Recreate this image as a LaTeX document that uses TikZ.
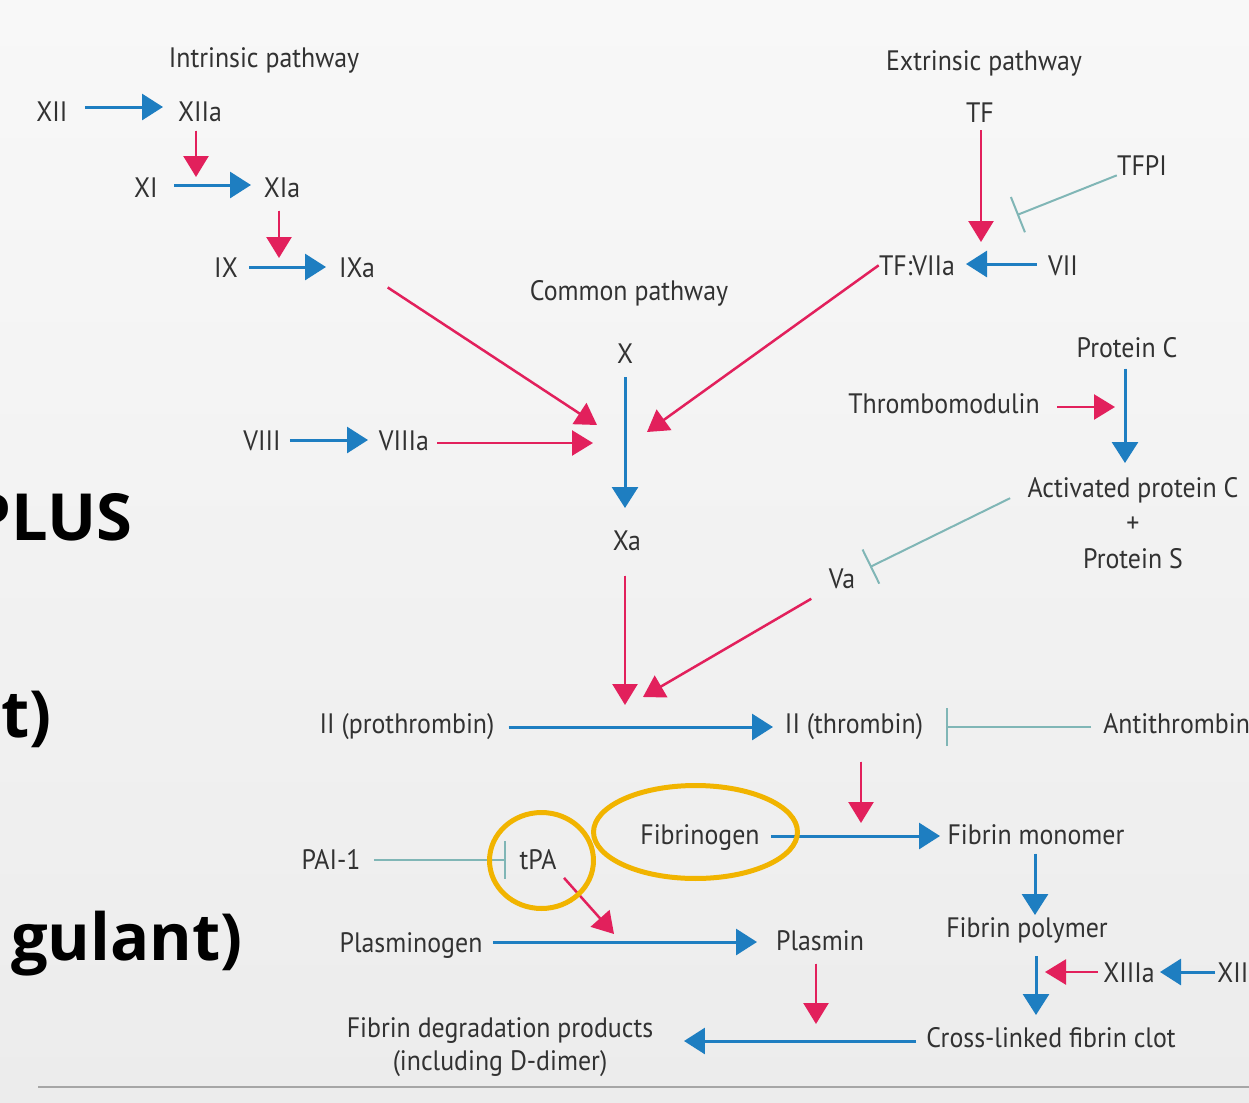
\documentclass[tikz,border=0pt]{standalone}
\usepackage{fontspec}
\usetikzlibrary{arrows.meta,calc}
\newfontfamily\dfont[FakeStretch=0.92]{PT Sans}
\newfontfamily\bfont{Open Sans}
\definecolor{bl}{RGB}{30,126,193}
\definecolor{rd}{RGB}{226,32,92}
\definecolor{tl}{RGB}{128,182,182}
\definecolor{og}{RGB}{241,180,0}
\definecolor{txt}{RGB}{50,50,50}
\definecolor{bgtop}{RGB}{248,248,248}
\definecolor{bgbot}{RGB}{236,236,236}
\tikzset{
  lbl/.style={font=\dfont\fontsize{16}{18}\selectfont, text=txt, inner sep=0pt, anchor=base},
  bigt/.style={font=\bfont\bfseries\fontsize{37}{40}\selectfont, text=black, inner sep=0pt, anchor=base east},
  barrow/.style={draw=bl, line width=0.06cm, -{Triangle[length=0.42cm,width=0.52cm]}, fill=bl},
  rarrow/.style={draw=rd, line width=0.05cm, -{Triangle[length=0.42cm,width=0.5cm]}, fill=rd},
  tbar/.style={draw=tl, line width=0.04cm, -{Bar[width=0.76cm]}},
  ring/.style={draw=og, line width=0.1cm}
}
\begin{document}
\begin{tikzpicture}[x=0.02cm,y=-0.02cm]
\useasboundingbox (0,0) rectangle (1249,1103);
\clip (0,0) rectangle (1249,1103);
\shade[top color=bgtop,bottom color=bgbot] (0,0) rectangle (1249,1103);

% bold slide text (cut off at the left)
\node[bigt] (plusT) at (133,540) {PLUS};
\node[bigt] (tT) at (52,737) {t)};
\node[bigt] (gT) at (243,960) {gulant)};

% labels
\node[lbl] (intr) at (264,67) {Intrinsic pathway};
\node[lbl] (XII) at (52,121) {XII};
\node[lbl] (XIIa) at (200,121) {XIIa};
\node[lbl] (XI) at (146,197) {XI};
\node[lbl] (XIa) at (282,197) {XIa};
\node[lbl] (IX) at (226,277) {IX};
\node[lbl] (IXa) at (357,277) {IXa};
\node[lbl] (common) at (629,300) {Common pathway};
\node[lbl] (X) at (625,363) {X};
\node[lbl] (VIII) at (262,450) {VIII};
\node[lbl] (VIIIa) at (404,450) {VIIIa};
\node[lbl] (Xa) at (627,550) {Xa};
\node[lbl] (extr) at (984,70) {Extrinsic pathway};
\node[lbl] (TF) at (980,122) {TF};
\node[lbl] (TFPI) at (1142,175) {TFPI};
\node[lbl] (TFVIIa) at (917,275) {TF:VIIa};
\node[lbl] (VII) at (1063,275) {VII};
\node[lbl] (ProtC) at (1127,357) {Protein C};
\node[lbl] (Thrombo) at (944,413) {Thrombomodulin};
\node[lbl] (APC) at (1133,497) {Activated protein C};
\node[lbl] (plus) at (1133,532) {+};
\node[lbl] (ProtS) at (1133,568) {Protein S};
\node[lbl] (Va) at (842,588) {Va};
\node[lbl] (proth) at (407,733) {II (prothrombin)};
\node[lbl] (thr) at (854,733) {II (thrombin)};
\node[lbl, anchor=base west] (AT) at (1103,733) {Antithrombin};
\node[lbl] (Fbg) at (700,844) {Fibrinogen};
\node[lbl] (FM) at (1036,844) {Fibrin monomer};
\node[lbl] (FP) at (1027,937) {Fibrin polymer};
\node[lbl] (XIIIa) at (1129,982) {XIIIa};
\node[lbl, anchor=base west] (XIII) at (1217,982) {XIII};
\node[lbl] (CL) at (1051,1047) {Cross-linked fibrin clot};
\node[lbl] (FDP1) at (500,1037) {Fibrin degradation products};
\node[lbl] (FDP2) at (500,1070) {(including D-dimer)};
\node[lbl] (Plasmin) at (820,950) {Plasmin};
\node[lbl] (Plgn) at (411,952) {Plasminogen};
\node[lbl] (tPA) at (538,869) {tPA};
\node[lbl] (PAI) at (331,869) {PAI-1};

% blue conversions
\coordinate (tXIIa) at (163,107);
\draw[barrow, shorten <=0.34cm] (XII.east |- tXIIa) -- (tXIIa);
\coordinate (tXIa) at (251,185);
\draw[barrow, shorten <=0.32cm] (XI.east |- tXIa) -- (tXIa);
\coordinate (tIXa) at (326,267);
\draw[barrow, shorten <=0.22cm] (IX.east |- tIXa) -- (tIXa);
\coordinate (tXa) at (625,508);
\draw[barrow, shorten <=0.28cm] (X.south -| tXa) -- (tXa);
\coordinate (tVIIIa) at (368,440);
\draw[barrow, shorten <=0.18cm] (VIII.east |- tVIIIa) -- (tVIIIa);
\coordinate (tTFVIIa) at (966,264);
\draw[barrow, shorten <=0.22cm] (VII.west |- tTFVIIa) -- (tTFVIIa);
\coordinate (tAPC) at (1125,463);
\draw[barrow, shorten <=0.22cm] (ProtC.south -| tAPC) -- (tAPC);
\coordinate (tthr) at (773,727);
\draw[barrow, shorten <=0.28cm] (proth.east |- tthr) -- (tthr);
\coordinate (tFM) at (940,836);
\draw[barrow, shorten <=0.22cm] (Fbg.east |- tFM) -- (tFM);
\coordinate (tFP) at (1035,915);
\draw[barrow, shorten <=0.18cm] (FM.south -| tFP) -- (tFP);
\coordinate (tCL) at (1036,1015);
\draw[barrow, shorten <=0.26cm] (FP.south -| tCL) -- (tCL);
\coordinate (tXIIIa) at (1160,972);
\draw[barrow, shorten <=0.04cm] (XIII.west |- tXIIIa) -- (tXIIIa);
\coordinate (tPlasmin) at (757,942);
\draw[barrow, shorten <=0.2cm] (Plgn.east |- tPlasmin) -- (tPlasmin);
\coordinate (tFDP) at (684,1041);
\draw[barrow, shorten <=0.2cm] (CL.west |- tFDP) -- (tFDP);

% red activations
\coordinate (rXI) at (196,177);
\draw[rarrow, shorten <=0.18cm] (XIIa.south -| rXI) -- (rXI);
\coordinate (rIX) at (279,258);
\draw[rarrow, shorten <=0.26cm] (XIa.south -| rIX) -- (rIX);
\coordinate (rX1) at (597,425);
\draw[rarrow, shorten <=0.36cm] (IXa) -- (rX1);
\coordinate (rX2) at (647,432);
\draw[rarrow] (TFVIIa.west) -- (rX2);
\coordinate (rX3) at (593,443);
\draw[rarrow, shorten <=0.16cm] (VIIIa.east |- rX3) -- (rX3);
\coordinate (rII1) at (625,705);
\draw[rarrow, shorten <=0.5cm] (Xa.south -| rII1) -- (rII1);
\coordinate (rII2) at (643,697);
\draw[rarrow, shorten <=0.4cm] (Va.south west) -- (rII2);
\coordinate (rTF) at (981,242);
\draw[rarrow, shorten <=0.16cm] (TF.south -| rTF) -- (rTF);
\coordinate (rPC) at (1115,407);
\draw[rarrow, shorten <=0.34cm] (Thrombo.east |- rPC) -- (rPC);
\coordinate (rFg) at (861,823);
\draw[rarrow, shorten <=0.44cm] (thr.south -| rFg) -- (rFg);
\coordinate (rPl) at (614,934);
\draw[rarrow, shorten <=0.22cm] (tPA.south east) -- (rPl);
\coordinate (rCL) at (816,1024);
\draw[rarrow, shorten <=0.26cm] (Plasmin.south -| rCL) -- (rCL);
\coordinate (rXIII) at (1045,972);
\draw[rarrow, shorten <=0.1cm] (XIIIa.west |- rXIII) -- (rXIII);

% teal inhibitions
\coordinate (bTF) at (1017,215);
\draw[tbar] (TFPI.south west) -- (bTF);
\coordinate (bVa) at (870,567);
\draw[tbar, shorten <=0.38cm] (APC.west) -- (bVa);
\coordinate (bthr) at (946,727);
\draw[tbar, shorten <=0.24cm] (AT.west |- bthr) -- (bthr);
\coordinate (btPA) at (506,860);
\draw[tbar, shorten <=0.26cm] (PAI.east |- btPA) -- (btPA);

% highlight rings
\draw[ring] (695.5,832) ellipse [x radius=2.04cm, y radius=0.93cm];
\draw[ring] (541.5,860.5) ellipse [x radius=1.04cm, y radius=0.96cm];

% bottom rule
\draw[black!35, line width=0.04cm] (38,1087) -- (1249,1087);
\end{tikzpicture}
\end{document}
